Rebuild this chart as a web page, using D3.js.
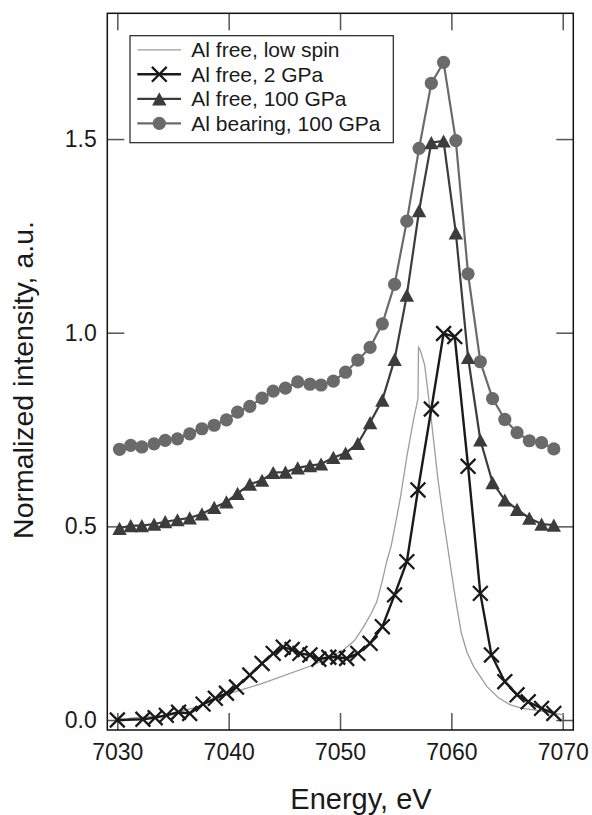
<!DOCTYPE html>
<html>
<head>
<meta charset="utf-8">
<script src="https://cdn.jsdelivr.net/npm/d3@7"></script>
<style>
  html, body { margin: 0; padding: 0; background: #fff; }
  svg { display: block; font-family: "Liberation Sans", Arial, Helvetica, sans-serif; }
</style>
</head>
<body>
<svg id="chart" width="592" height="815"></svg>
<script>
// Fe K-edge spectra: energy (eV) and normalized intensity (a.u.)
const energyLowSpin = [7031.0, 7034.0, 7037.0, 7040.1, 7043.1, 7047.6, 7049.0, 7050.3, 7051.3, 7052.1,
  7052.8, 7053.3, 7053.8, 7054.2, 7054.6, 7055.4, 7056.0, 7056.6, 7057.0, 7057.05, 7057.2, 7057.6,
  7058.2, 7058.8, 7059.3, 7059.7, 7060.2, 7060.5, 7060.9, 7061.4, 7062.0, 7063.2, 7064.2, 7065.3,
  7066.4, 7067.4, 7068.8, 7070.1];
const lowSpin = [0.004, 0.012, 0.032, 0.069, 0.095, 0.142, 0.160, 0.181, 0.205, 0.240,
  0.275, 0.305, 0.360, 0.410, 0.450, 0.570, 0.680, 0.775, 0.830, 0.962, 0.955, 0.917,
  0.775, 0.620, 0.516, 0.440, 0.344, 0.290, 0.224, 0.175, 0.138, 0.086, 0.058, 0.039,
  0.030, 0.026, 0.019, 0.013];

const energy2GPa = [7030.0, 7032.3, 7033.4, 7034.4, 7035.5, 7036.5, 7037.7, 7038.8, 7039.8, 7040.7,
  7041.9, 7043.0, 7044.0, 7044.9, 7045.7, 7046.4, 7047.3, 7048.1, 7049.0, 7049.8, 7050.6, 7051.6,
  7052.7, 7053.8, 7054.9, 7056.0, 7057.0, 7058.2, 7059.3, 7060.3, 7061.5, 7062.6, 7063.6, 7064.8,
  7065.9, 7066.9, 7068.1, 7069.2];
const free2GPa = [0.000, 0.002, 0.006, 0.012, 0.020, 0.017, 0.041, 0.056, 0.069, 0.085,
  0.116, 0.146, 0.172, 0.188, 0.182, 0.172, 0.168, 0.157, 0.162, 0.162, 0.159, 0.172,
  0.198, 0.241, 0.323, 0.409, 0.594, 0.803, 0.998, 0.990, 0.655, 0.327, 0.168, 0.099,
  0.065, 0.047, 0.030, 0.017];

const energy100GPa = [7030.2, 7031.2, 7032.2, 7033.3, 7034.3, 7035.4, 7036.5, 7037.6, 7038.7, 7039.8,
  7040.8, 7041.9, 7043.0, 7044.0, 7045.1, 7046.2, 7047.3, 7048.3, 7049.4, 7050.5, 7051.6, 7052.7,
  7053.8, 7054.9, 7056.0, 7057.1, 7058.2, 7059.3, 7060.4, 7061.5, 7062.6, 7063.7, 7064.8, 7065.9,
  7067.0, 7068.1, 7069.2];
const free100GPa = [0.495, 0.502, 0.502, 0.506, 0.512, 0.517, 0.522, 0.532, 0.549, 0.563,
  0.585, 0.609, 0.619, 0.639, 0.640, 0.651, 0.657, 0.661, 0.678, 0.689, 0.714, 0.768,
  0.826, 0.931, 1.097, 1.315, 1.491, 1.495, 1.258, 0.936, 0.723, 0.613, 0.568, 0.544,
  0.521, 0.506, 0.503];
const bearing100GPa = [0.699, 0.709, 0.705, 0.713, 0.722, 0.726, 0.739, 0.752, 0.761, 0.775,
  0.795, 0.810, 0.831, 0.849, 0.857, 0.873, 0.867, 0.865, 0.875, 0.898, 0.929, 0.962,
  1.023, 1.125, 1.288, 1.476, 1.644, 1.698, 1.496, 1.152, 0.925, 0.830, 0.776, 0.742,
  0.721, 0.716, 0.700];

const xTicks = [7030, 7040, 7050, 7060, 7070];
const yTicks = [0.0, 0.5, 1.0, 1.5];
const legendLabels = ["Al free, low spin", "Al free, 2 GPa", "Al free, 100 GPa", "Al bearing, 100 GPa"];

const svg = d3.select("#chart");
const margin = { left: 107.3, top: 13.3, right: 592 - 573.3, bottom: 815 - 730 };
const W = 592 - margin.left - margin.right;
const H = 815 - margin.top - margin.bottom;

const x = d3.scaleLinear().domain([7029.10, 7070.95]).range([0, W]);
const y = d3.scaleLinear().domain([-0.0258, 1.8247]).range([H, 0]);

const g = svg.append("g").attr("transform", `translate(${margin.left},${margin.top})`);

const TICK = 17;
const tickColor = "#555";

function styleAxis(sel) {
  sel.select(".domain").remove();
  sel.selectAll(".tick line").attr("stroke", tickColor).attr("stroke-width", 1.5);
  sel.selectAll(".tick text").attr("fill", "#1a1a1a").style("font-size", "23px")
    .style("font-family", "'Liberation Sans', Arial, sans-serif");
}

g.append("g").attr("transform", `translate(0,${H})`)
  .call(d3.axisBottom(x).tickValues(xTicks).tickFormat(d3.format("d")).tickSize(-TICK).tickPadding(13.7))
  .call(styleAxis);
g.append("g")
  .call(d3.axisTop(x).tickValues(xTicks).tickFormat("").tickSize(-TICK))
  .call(styleAxis);
g.append("g")
  .call(d3.axisLeft(y).tickValues(yTicks).tickFormat(d3.format(".1f")).tickSize(-TICK).tickPadding(10.6))
  .call(styleAxis);
g.append("g").attr("transform", `translate(${W},0)`)
  .call(d3.axisRight(y).tickValues(yTicks).tickFormat("").tickSize(-TICK))
  .call(styleAxis);

// frame
g.append("rect").attr("x", 0).attr("y", 0).attr("width", W).attr("height", H)
  .attr("fill", "none").attr("stroke", "#111").attr("stroke-width", 1.5);

const zip = (xs, ys) => xs.map((e, i) => [e, ys[i]]);
const line = d3.line().x(d => x(d[0])).y(d => y(d[1]));

const crossPath = s => `M${-s},${-s}L${s},${s}M${-s},${s}L${s},${-s}`;
const triPath = (w, h) => `M0,${-h}L${w},${h}L${-w},${h}Z`;

const series = {
  lowSpin: { data: zip(energyLowSpin, lowSpin), color: "#9d9d9d", width: 1.3 },
  bearing: { data: zip(energy100GPa, bearing100GPa), color: "#6a6a6a", width: 2.2 },
  free100: { data: zip(energy100GPa, free100GPa), color: "#3c3c3c", width: 2.2 },
  free2: { data: zip(energy2GPa, free2GPa), color: "#1a1a1a", width: 2.4 }
};

const plot = g.append("g");

// thin reference curve
plot.append("path").datum(series.lowSpin.data).attr("d", line)
  .attr("fill", "none").attr("stroke", series.lowSpin.color).attr("stroke-width", series.lowSpin.width);

// Al bearing, 100 GPa: circles
plot.append("path").datum(series.bearing.data).attr("d", line)
  .attr("fill", "none").attr("stroke", series.bearing.color).attr("stroke-width", series.bearing.width);
plot.append("g").selectAll("circle").data(series.bearing.data).join("circle")
  .attr("cx", d => x(d[0])).attr("cy", d => y(d[1])).attr("r", 6.6)
  .attr("fill", series.bearing.color);

// Al free, 100 GPa: triangles
plot.append("path").datum(series.free100.data).attr("d", line)
  .attr("fill", "none").attr("stroke", series.free100.color).attr("stroke-width", series.free100.width);
plot.append("g").selectAll("path").data(series.free100.data).join("path")
  .attr("transform", d => `translate(${x(d[0])},${y(d[1])})`)
  .attr("d", triPath(7.2, 6.6)).attr("fill", series.free100.color);

// Al free, 2 GPa: crosses
plot.append("path").datum(series.free2.data).attr("d", line)
  .attr("fill", "none").attr("stroke", series.free2.color).attr("stroke-width", series.free2.width);
plot.append("g").selectAll("path").data(series.free2.data).join("path")
  .attr("transform", d => `translate(${x(d[0])},${y(d[1])})`)
  .attr("d", crossPath(7.4)).attr("fill", "none")
  .attr("stroke", series.free2.color).attr("stroke-width", 2.3);

// legend
const lg = svg.append("g");
lg.append("rect").attr("x", 130).attr("y", 35.7).attr("width", 263.3).attr("height", 107)
  .attr("fill", "#fff").attr("stroke", "#222").attr("stroke-width", 1.2);
const legendKeys = ["lowSpin", "free2", "free100", "bearing"];
legendKeys.forEach((k, i) => {
  const cy = 49.8 + i * 24.5;
  const s = series[k];
  lg.append("line").attr("x1", 137.3).attr("x2", 181).attr("y1", cy).attr("y2", cy)
    .attr("stroke", s.color).attr("stroke-width", s.width);
  if (k === "free2") {
    lg.append("path").attr("transform", `translate(159.3,${cy})`).attr("d", crossPath(7.4))
      .attr("fill", "none").attr("stroke", s.color).attr("stroke-width", 2.3);
  } else if (k === "free100") {
    lg.append("path").attr("transform", `translate(159.3,${cy})`).attr("d", triPath(7.2, 6.6))
      .attr("fill", s.color);
  } else if (k === "bearing") {
    lg.append("circle").attr("cx", 159.3).attr("cy", cy).attr("r", 6.6).attr("fill", s.color);
  }
  lg.append("text").attr("x", 191.3).attr("y", cy + 7.2).text(legendLabels[i])
    .style("font-size", "21px").attr("fill", "#1a1a1a");
});

// axis titles
svg.append("text").attr("x", 361).attr("y", 809).attr("text-anchor", "middle")
  .style("font-size", "29px").attr("fill", "#1a1a1a").text("Energy, eV");
svg.append("text").attr("transform", "translate(33,380) rotate(-90)").attr("text-anchor", "middle")
  .style("font-size", "28.5px").attr("fill", "#1a1a1a").text("Normalized intensity, a.u.");
</script>
</body>
</html>
